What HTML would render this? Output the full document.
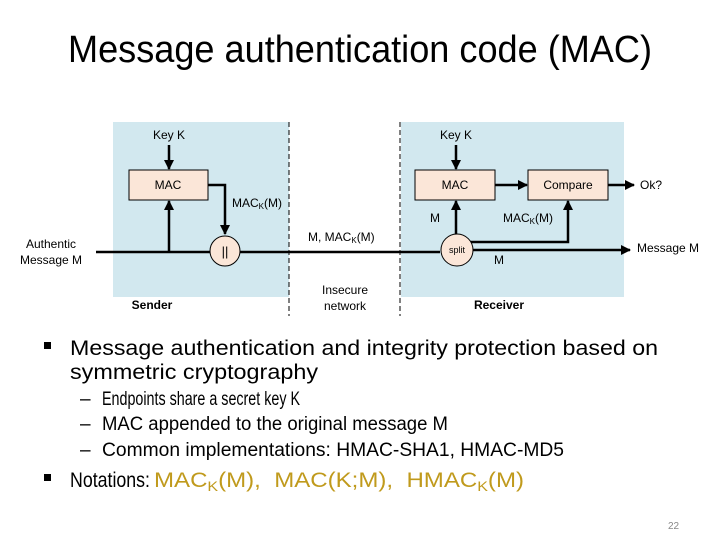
<!DOCTYPE html>
<html><head><meta charset="utf-8"><style>
html,body{margin:0;padding:0;background:#fff;}
svg{display:block;font-family:"Liberation Sans",sans-serif;}
</style></head><body>
<svg width="720" height="540" viewBox="0 0 720 540" xmlns="http://www.w3.org/2000/svg">
<defs>
<marker id="ah" markerWidth="10" markerHeight="10" refX="9" refY="5" orient="auto" markerUnits="userSpaceOnUse">
<path d="M0,0 L10,5 L0,10 z" fill="#000"/></marker>
</defs>
<text x="68" y="62" font-size="38" textLength="584" lengthAdjust="spacingAndGlyphs" fill="#000">Message authentication code (MAC)</text>
<rect x="113" y="122" width="176" height="175" fill="#d2e8ef"/>
<rect x="401" y="122" width="223" height="175" fill="#d2e8ef"/>
<line x1="289" y1="122" x2="289" y2="316" stroke="#000" stroke-width="1" stroke-dasharray="5,3"/>
<line x1="400" y1="122" x2="400" y2="316" stroke="#000" stroke-width="1" stroke-dasharray="5,3"/>
<g font-size="12" fill="#000">
<text x="169" y="139" text-anchor="middle">Key K</text>
<line x1="169" y1="145" x2="169" y2="169" stroke="#000" stroke-width="2.5" marker-end="url(#ah)"/>
<rect x="129" y="170" width="79" height="30" fill="#fbe6d8" stroke="#000"/>
<text x="168" y="189" text-anchor="middle">MAC</text>
<line x1="96" y1="252" x2="440" y2="252" stroke="#000" stroke-width="2.5"/>
<line x1="169" y1="252" x2="169" y2="201" stroke="#000" stroke-width="2.5" marker-end="url(#ah)"/>
<polyline points="208,185 225,185 225,234" fill="none" stroke="#000" stroke-width="2.5" marker-end="url(#ah)"/>
<circle cx="225" cy="251" r="15" fill="#fbe6d8" stroke="#000"/>
<text x="225" y="256" text-anchor="middle" font-size="13">||</text>
<text x="232" y="207">MAC<tspan font-size="8" dy="2">K</tspan><tspan dy="-2">(M)</tspan></text>
<text x="51" y="248" text-anchor="middle">Authentic</text>
<text x="51" y="264" text-anchor="middle">Message M</text>
<text x="152" y="309" text-anchor="middle" font-weight="bold">Sender</text>
<text x="308" y="241">M, MAC<tspan font-size="8" dy="2">K</tspan><tspan dy="-2">(M)</tspan></text>
<text x="345" y="294" text-anchor="middle">Insecure</text>
<text x="345" y="310" text-anchor="middle">network</text>
<text x="456" y="139" text-anchor="middle">Key K</text>
<line x1="456" y1="145" x2="456" y2="169" stroke="#000" stroke-width="2.5" marker-end="url(#ah)"/>
<rect x="415" y="170" width="80" height="30" fill="#fbe6d8" stroke="#000"/>
<text x="455" y="189" text-anchor="middle">MAC</text>
<rect x="528" y="170" width="80" height="30" fill="#fbe6d8" stroke="#000"/>
<text x="568" y="189" text-anchor="middle">Compare</text>
<line x1="495" y1="185" x2="527" y2="185" stroke="#000" stroke-width="2.5" marker-end="url(#ah)"/>
<line x1="608" y1="185" x2="634" y2="185" stroke="#000" stroke-width="2.5" marker-end="url(#ah)"/>
<text x="640" y="189">Ok?</text>
<line x1="456" y1="235" x2="456" y2="201" stroke="#000" stroke-width="2.5" marker-end="url(#ah)"/>
<polyline points="470,242 568,242 568,201" fill="none" stroke="#000" stroke-width="2.5" marker-end="url(#ah)"/>
<line x1="470" y1="250" x2="630" y2="250" stroke="#000" stroke-width="2.5" marker-end="url(#ah)"/>
<circle cx="457" cy="250" r="16" fill="#fbe6d8" stroke="#000"/>
<text x="457" y="253" text-anchor="middle" font-size="9">split</text>
<text x="430" y="222">M</text>
<text x="503" y="222">MAC<tspan font-size="8" dy="2">K</tspan><tspan dy="-2">(M)</tspan></text>
<text x="494" y="264">M</text>
<text x="637" y="252">Message M</text>
<text x="499" y="309" text-anchor="middle" font-weight="bold">Receiver</text>
</g>
<g font-size="21" fill="#000">
<rect x="44" y="342" width="7" height="7"/>
<text x="70" y="355" textLength="588" lengthAdjust="spacingAndGlyphs">Message authentication and integrity protection based on</text>
<text x="70" y="379" textLength="248" lengthAdjust="spacingAndGlyphs">symmetric cryptography</text>
<g font-size="19">
<text x="80" y="405">–</text>
<text x="102" y="405" textLength="198" lengthAdjust="spacingAndGlyphs">Endpoints share a secret key K</text>
<text x="80" y="430">–</text>
<text x="102" y="430" textLength="346" lengthAdjust="spacingAndGlyphs">MAC appended to the original message M</text>
<text x="80" y="456">–</text>
<text x="102" y="456" textLength="462" lengthAdjust="spacingAndGlyphs">Common implementations: HMAC-SHA1, HMAC-MD5</text>
</g>
<rect x="44" y="474" width="7" height="7"/>
<text x="70" y="487" textLength="80" lengthAdjust="spacingAndGlyphs">Notations:</text>
<text x="154" y="487" fill="#c09a1c" textLength="370" lengthAdjust="spacingAndGlyphs" xml:space="preserve">MAC<tspan font-size="14" dy="4">K</tspan><tspan dy="-4">(M),  MAC(K;M),  HMAC</tspan><tspan font-size="14" dy="4">K</tspan><tspan dy="-4">(M)</tspan></text>
</g>
<text x="668" y="529" font-size="10" fill="#888">22</text>
</svg>
</body></html>
